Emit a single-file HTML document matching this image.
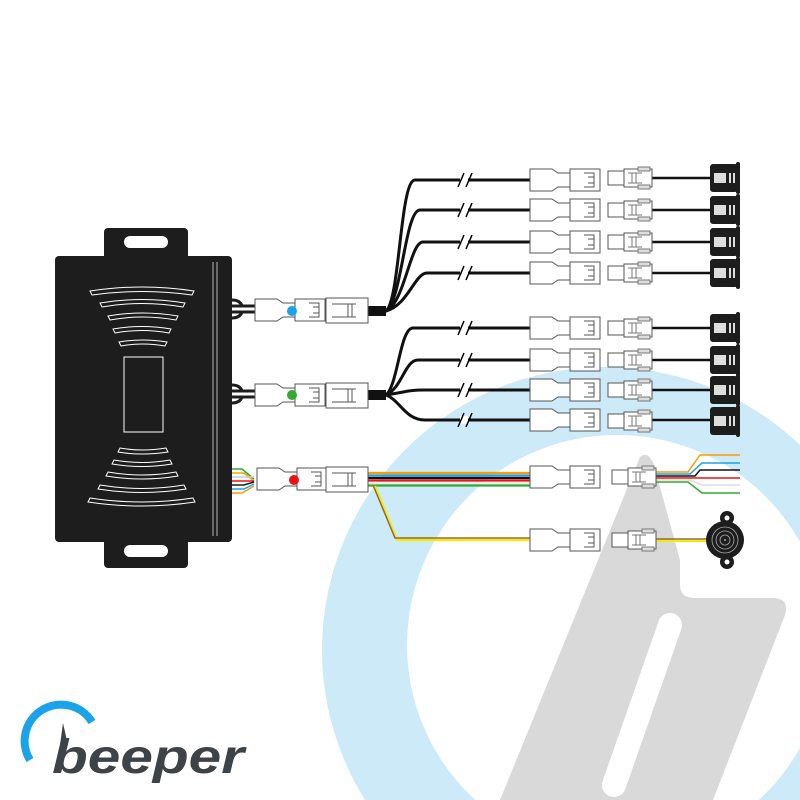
<!DOCTYPE html>
<html><head><meta charset="utf-8"><style>html,body{margin:0;padding:0;background:#fff;width:800px;height:800px;overflow:hidden}svg{display:block;overflow:hidden}</style></head>
<body>
<svg width="800" height="800" viewBox="0 0 800 800" xmlns="http://www.w3.org/2000/svg">
<defs>
<clipPath id="c"><rect width="800" height="800"/></clipPath>
<g id="fem">
<path d="M0,-11 h22 l6,4 h12 v-4 h30 v22 h-30 v-4 h-12 l-6,4 h-22 z" fill="#fff" stroke="#555" stroke-width="1"/>
<line x1="40" y1="-11" x2="40" y2="11" stroke="#555"/>
<path d="M54,-7 h10 v14 h-10 M58,-3 h6 v6 h-6" fill="none" stroke="#555"/>
</g>
<g id="male">
<rect x="0" y="-7" width="16" height="14" fill="#fff" stroke="#555"/>
<rect x="16" y="-9" width="28" height="18" fill="#fff" stroke="#555"/>
<path d="M20,-5 h14 M20,5 h14 M24,-5 v10 M28,-5 v10" stroke="#777" fill="none"/>
<rect x="30" y="-11" width="12" height="4" fill="#ddd" stroke="#777"/>
<rect x="30" y="7" width="12" height="4" fill="#ddd" stroke="#777"/>
</g>
<g id="sens">
<rect x="0" y="-14" width="28" height="28" rx="3" fill="#1d1d1d"/>
<rect x="26" y="-16" width="4" height="32" rx="2" fill="#1d1d1d"/>
<rect x="4" y="-5" width="12" height="10" fill="#ddd"/>
<rect x="19" y="-5" width="2" height="10" fill="#ddd"/>
<rect x="23" y="-5" width="2" height="10" fill="#ddd"/>
</g>
<g id="brk"><path d="M-7,7 L-1,-7 M1,7 L7,-7" stroke="#000" stroke-width="1.5"/></g>
</defs>
<g clip-path="url(#c)">
<circle cx="605" cy="650" r="283" fill="#cdeaf8"/>
<circle cx="617" cy="645" r="210" fill="#fff"/>
<path d="M640,457 Q648,450 654,465 L680,560 L680,585 Q680,598 695,598 L775,598 Q790,600 785,615 L713,800 L500,800 Z" fill="#d9d9d9"/>
<line x1="670" y1="625" x2="614" y2="785" stroke="#fff" stroke-width="24" stroke-linecap="round"/>
</g>

<!-- module -->
<rect x="104" y="228" width="84" height="340" rx="4" fill="#1d1d1d"/>
<rect x="124" y="236" width="44" height="12" rx="6" fill="#fff"/>
<rect x="124" y="545" width="44" height="12" rx="6" fill="#fff"/>
<rect x="55" y="256" width="177" height="286" rx="4" fill="#1d1d1d"/>
<line x1="213" y1="262" x2="213" y2="536" stroke="#ddd" stroke-width="0.8"/>
<line x1="217" y1="262" x2="217" y2="536" stroke="#ddd" stroke-width="0.8"/>
<g fill="none" stroke="#fff" stroke-width="1">
<path d="M90,291 Q142,283 194,291 L192,295 Q142,288 92,295 Z"/>
<path d="M100,303 Q142,296 185,303 L183,307 Q142,300 102,307 Z"/>
<path d="M108,316 Q142,310 178,316 L176,320 Q142,314 110,320 Z"/>
<path d="M113,329 Q142,324 171,329 L169,333 Q142,328 115,333 Z"/>
<path d="M119,342 Q142,338 167,342 L165,346 Q142,342 121,346 Z"/>
<rect x="124" y="357" width="39" height="75"/>
<path d="M120,448 Q142,452 166,448 L168,452 Q142,456 118,452 Z"/>
<path d="M114,460 Q142,465 170,460 L172,464 Q142,469 112,464 Z"/>
<path d="M108,472 Q142,478 176,472 L178,476 Q142,482 106,476 Z"/>
<path d="M100,485 Q142,492 184,485 L186,489 Q142,496 98,489 Z"/>
<path d="M90,498 Q142,506 193,498 L195,502 Q142,510 88,502 Z"/>
</g>

<!-- stubs -->
<g stroke="#1d1d1d" stroke-width="3" fill="none">
<path d="M232,300 q8,0 10,6 l15,0 M232,318 q8,0 10,-6 l15,0 M232,306 h25 M232,312 h25"/>
<path d="M232,385 q8,0 10,6 l15,0 M232,403 q8,0 10,-6 l15,0 M232,391 h25 M232,397 h25"/>
</g>
<g stroke-width="1.5" fill="none">
<path d="M232,469 h10 l12,10" stroke="#3a3"/>
<path d="M232,473 h12 l10,8" stroke="#ea0"/>
<path d="M232,477 h22" stroke="#ccc"/>
<path d="M232,481 h22" stroke="#e11"/>
<path d="M232,485 h12 l10,-3" stroke="#1d1d1d"/>
<path d="M232,489 h12 l10,-5" stroke="#1aa3e8"/>
<path d="M232,493 h10 l12,-7" stroke="#f90"/>
</g>

<!-- fans -->
<g stroke="#111" stroke-width="3" fill="none">
<path d="M368,311 h18 C400,300 400,180 415,180 H530"/>
<path d="M368,311 h18 C402,300 405,210 420,210 H530"/>
<path d="M368,311 h18 C405,302 410,242 423,242 H530"/>
<path d="M368,311 h18 C408,305 415,273 427,273 H530"/>
<path d="M368,395 h18 C398,385 400,328 413,328 H530"/>
<path d="M368,395 h18 C402,388 405,360 418,360 H530"/>
<path d="M368,395 h18 C405,392 410,390 423,390 H530"/>
<path d="M368,395 h18 C400,400 405,420 425,420 H530"/>
<rect x="368" y="306" width="18" height="10" fill="#111" stroke="none"/>
<rect x="368" y="390" width="18" height="10" fill="#111" stroke="none"/>
</g>
<g fill="#fff">
<rect x="460" y="176" width="8" height="8"/><rect x="460" y="206" width="8" height="8"/><rect x="460" y="238" width="8" height="8"/><rect x="460" y="269" width="8" height="8"/>
<rect x="460" y="324" width="8" height="8"/><rect x="460" y="356" width="8" height="8"/><rect x="460" y="386" width="8" height="8"/><rect x="460" y="416" width="8" height="8"/>
</g>
<g><use href="#brk" x="465" y="180"/><use href="#brk" x="465" y="210"/><use href="#brk" x="465" y="242"/><use href="#brk" x="465" y="273"/><use href="#brk" x="465" y="328"/><use href="#brk" x="465" y="360"/><use href="#brk" x="465" y="390"/><use href="#brk" x="465" y="420"/></g>

<!-- colored cable -->
<g stroke-width="2.2" fill="none">
<path d="M368,473 H530" stroke="#f90"/>
<path d="M368,475.5 H530" stroke="#1aa3e8"/>
<path d="M368,478 H530" stroke="#111"/>
<path d="M368,480.5 H530" stroke="#e11"/>
<path d="M368,483 H530" stroke="#eee"/>
<path d="M368,485.5 H530" stroke="#3a3"/>
<path d="M375,486 L397,540 H530" stroke="#ee0"/>
<path d="M373,485 L395,538 H530" stroke="#963" stroke-width="1.5"/>
<path d="M650,472 H688 L700,455 H740" stroke="#f90" stroke-width="1.5"/>
<path d="M650,474 H690 L702,463 H740" stroke="#1aa3e8" stroke-width="1.5"/>
<path d="M650,476 H695 L700,470 H740" stroke="#111" stroke-width="1.5"/>
<path d="M650,478 H740" stroke="#e11" stroke-width="1.5"/>
<path d="M650,480 H690 L702,485 H740" stroke="#ddd" stroke-width="1.5"/>
<path d="M650,482 H688 L702,493 H740" stroke="#3a3" stroke-width="1.5"/>
<path d="M655,541 H712" stroke="#ee0" stroke-width="2"/>
<path d="M655,539 H712" stroke="#963" stroke-width="1.5"/>
</g>

<!-- near connectors -->
<use href="#fem" x="255" y="310"/><circle cx="292" cy="311" r="5" fill="#1aa3e8"/>
<use href="#fem" x="255" y="395"/><circle cx="292" cy="395" r="5" fill="#3a3"/>
<use href="#fem" x="257" y="479"/><circle cx="294" cy="480" r="5" fill="#e11"/>
<g fill="#fff" stroke="#555">
<rect x="326" y="298" width="42" height="25"/><rect x="326" y="383" width="42" height="25"/><rect x="326" y="467" width="42" height="25"/>
</g>
<g stroke="#555" fill="none"><path d="M332,304 h24 M332,317 h24 M348,304 v13 M352,304 v13"/><path d="M332,389 h24 M332,402 h24 M348,389 v13 M352,389 v13"/><path d="M332,473 h24 M332,486 h24 M348,473 v13 M352,473 v13"/></g>

<!-- far connectors -->
<g>
<use href="#fem" x="530" y="180"/><use href="#fem" x="530" y="210"/><use href="#fem" x="530" y="242"/><use href="#fem" x="530" y="273"/>
<use href="#fem" x="530" y="328"/><use href="#fem" x="530" y="360"/><use href="#fem" x="530" y="390"/><use href="#fem" x="530" y="420"/>
<use href="#fem" x="530" y="477"/><use href="#fem" x="530" y="540"/>
</g>
<g stroke="#111" stroke-width="2.5">
<path d="M652,178 H712 M652,210 H712 M652,242 H712 M652,273 H712 M652,328 H712 M652,360 H712 M652,390 H712 M652,420 H712"/>
</g>
<g>
<use href="#male" x="608" y="178"/><use href="#male" x="608" y="210"/><use href="#male" x="608" y="242"/><use href="#male" x="608" y="273"/>
<use href="#male" x="608" y="328"/><use href="#male" x="608" y="360"/><use href="#male" x="608" y="390"/><use href="#male" x="608" y="421"/>
<use href="#male" x="612" y="477"/><use href="#male" x="612" y="540"/>
<use href="#sens" x="710" y="178"/><use href="#sens" x="710" y="210"/><use href="#sens" x="710" y="242"/><use href="#sens" x="710" y="273"/>
<use href="#sens" x="710" y="328"/><use href="#sens" x="710" y="360"/><use href="#sens" x="710" y="390"/><use href="#sens" x="710" y="421"/>
</g>
<!-- buzzer -->
<g>
<circle cx="727" cy="518" r="7" fill="#1d1d1d"/><circle cx="727" cy="562" r="7" fill="#1d1d1d"/>
<circle cx="727" cy="518" r="2.5" fill="#fff"/><circle cx="727" cy="562" r="2.5" fill="#fff"/>
<circle cx="725" cy="540" r="19" fill="#1d1d1d"/>
<circle cx="725" cy="540" r="13" fill="none" stroke="#aaa" stroke-width="0.8"/>
<circle cx="725" cy="540" r="9" fill="none" stroke="#aaa" stroke-width="0.8"/>
<circle cx="725" cy="540" r="5" fill="none" stroke="#aaa" stroke-width="0.8"/>
<circle cx="725" cy="540" r="1" fill="#aaa"/>
</g>

<!-- logo -->
<path d="M30,760 A34,34 0 0 1 92,722" fill="none" stroke="#1aa3e8" stroke-width="8"/>
<path d="M63,723 L68,745 L60,745 Z" fill="#3d4347"/>
<text x="52" y="773" font-family="Liberation Sans, sans-serif" font-weight="bold" font-style="italic" font-size="48" fill="#3d4347" textLength="192" lengthAdjust="spacingAndGlyphs">beeper</text>
</svg>
</body></html>
